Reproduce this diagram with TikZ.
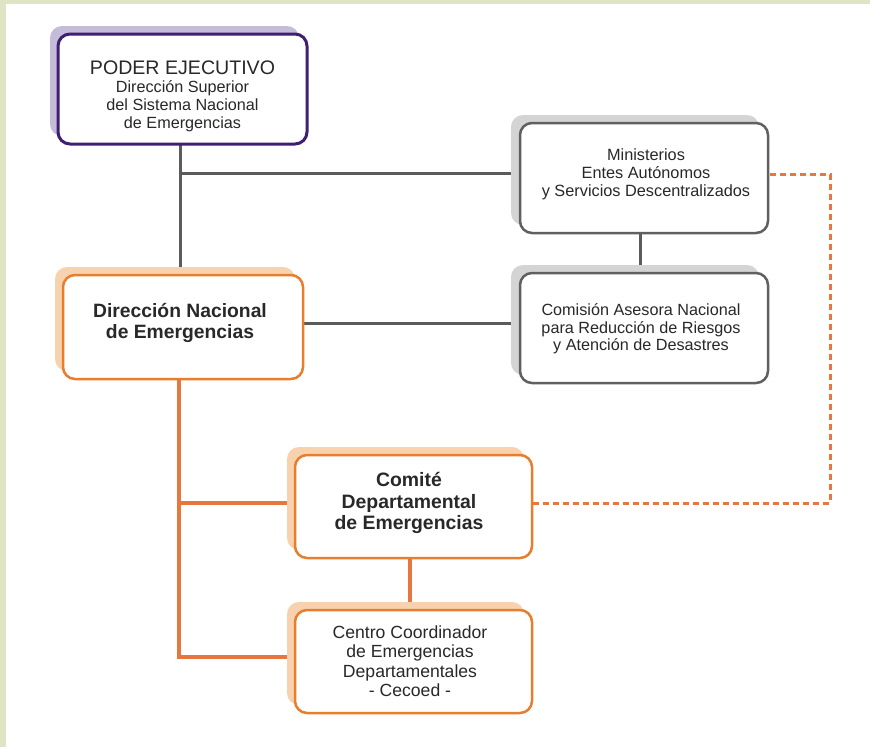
\documentclass[tikz,border=0pt]{standalone}
\usepackage{fontspec}
\setmainfont{Liberation Sans}
\usetikzlibrary{shadows}
\definecolor{band}{RGB}{222,228,196}
\definecolor{purp}{RGB}{63,31,115}
\definecolor{purpsh}{RGB}{197,188,217}
\definecolor{gborder}{RGB}{96,96,96}
\definecolor{gsh}{RGB}{212,212,212}
\definecolor{oborder}{RGB}{230,126,46}
\definecolor{osh}{RGB}{248,210,174}
\definecolor{oline}{RGB}{232,118,63}
\definecolor{gline}{RGB}{91,91,91}
\definecolor{txt}{RGB}{40,40,40}
\tikzset{
  basebox/.style={rectangle, rounded corners=12pt, fill=white, inner sep=0pt},
  purplebox/.style={basebox, draw=purp, line width=3pt,
    general shadow={shadow xshift=-8pt, shadow yshift=8pt, fill=purpsh}},
  greybox/.style={basebox, draw=gborder, line width=2.5pt,
    general shadow={shadow xshift=-9pt, shadow yshift=8pt, fill=gsh}},
  orangebox/.style={basebox, draw=oborder, line width=2.5pt,
    general shadow={shadow xshift=-8pt, shadow yshift=8pt, fill=osh}},
  boxtext/.style={align=center, text=txt, inner sep=0pt},
  greyline/.style={draw=gline, line width=3pt},
  orangeline/.style={draw=oline, line width=4pt},
  dashline/.style={draw=oline, line width=3pt, dash pattern=on 6pt off 4pt},
}
\begin{document}
\begin{tikzpicture}[x=1pt,y=-1pt]
\useasboundingbox (0,0) rectangle (870,747);
\fill[white] (0,0) rectangle (870,747);
\fill[band] (0,0) rectangle (870,4);
\fill[band] (0,0) rectangle (6,747);

% connector coordinates
\coordinate (gx) at (180,0);
\coordinate (j1) at (180,173);
\coordinate (mx) at (640,0);
\coordinate (ox) at (179,0);
\coordinate (o1) at (179,503);
\coordinate (o2) at (179,657);
\coordinate (cx) at (410,0);
\coordinate (d1) at (830,174);
\coordinate (d2) at (830,503);

% grey lines (behind boxes)
\draw[greyline] (gx |- 0,140) -- (gx |- 0,280);
\draw[greyline] (j1) -- (600,173);
\draw[greyline] (mx |- 0,230) -- (mx |- 0,276);
\draw[greyline] (290,323) -- (540,323);
% orange lines
\draw[orangeline] (ox |- 0,375) -- (o2) -- (310,657);
\draw[orangeline] (o1) -- (310,503);
\draw[orangeline] (cx |- 0,550) -- (cx |- 0,615);
\draw[dashline] (760,174) -- (d1) -- (d2) -- (520,503);

% boxes
\node[purplebox, minimum width=249pt, minimum height=110pt] (pe) at (182.5,89) {};
\node[greybox, minimum width=248pt, minimum height=110pt] (min) at (644,178) {};
\node[greybox, minimum width=248pt, minimum height=110pt] (com) at (644,328) {};
\node[orangebox, minimum width=240pt, minimum height=104pt] (dne) at (183,327) {};
\node[orangebox, minimum width=237pt, minimum height=103pt] (cde) at (413.5,506.5) {};
\node[orangebox, minimum width=237pt, minimum height=103pt] (cce) at (413.5,661.5) {};

% texts
\node[boxtext, font=\fontsize{16.2}{18}\selectfont] (pe-t) at (182.5,96)
  {{\fontsize{19.6}{21}\selectfont PODER EJECUTIVO}\\Dirección Superior\\del Sistema Nacional\\de Emergencias};
\node[boxtext, font=\fontsize{16.3}{18}\selectfont] (min-t) at (646,174)
  {Ministerios\\Entes Autónomos\\y Servicios Descentralizados};
\node[boxtext, font=\fontsize{16.2}{17.5}\selectfont] (com-t) at (641,329)
  {Comisión Asesora Nacional\\para Reducción de Riesgos\\y Atención de Desastres};
\node[boxtext, font=\fontsize{19.3}{21}\selectfont\bfseries] (dne-t) at (180,323)
  {Dirección Nacional\\de Emergencias};
\node[boxtext, font=\fontsize{19.4}{21.5}\selectfont\bfseries] (cde-t) at (409,503)
  {Comité\\Departamental\\de Emergencias};
\node[boxtext, font=\fontsize{17.6}{19.5}\selectfont] (cce-t) at (410,661)
  {Centro Coordinador\\de Emergencias\\Departamentales\\- Cecoed -};
\end{tikzpicture}
\end{document}
